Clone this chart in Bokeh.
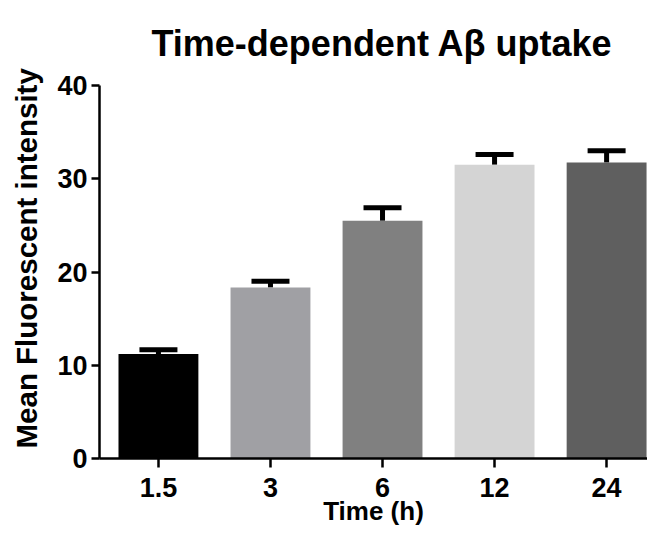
from bokeh.plotting import figure
from bokeh.models import ColumnDataSource, Whisker, TeeHead, FixedTicker, Range1d, Title
from bokeh.embed import file_html
from bokeh.resources import INLINE

title_text = "Time-dependent A\u03b2 uptake"
x_label = "Time (h)"
y_label = "Mean Fluorescent intensity"
categories = ["1.5", "3", "6", "12", "24"]
means = [11.2, 18.35, 25.5, 31.5, 31.75]
upper = [11.65, 19.0, 26.9, 32.6, 33.0]
colors = ["#000000", "#a0a0a4", "#808080", "#d4d4d4", "#5f5f5f"]
y_ticks = [0, 10, 20, 30, 40]

xpos = list(range(len(categories)))
src = ColumnDataSource(dict(x=xpos, top=means, upper=upper, color=colors))

FONT = "Liberation Sans"

p = figure(width=647, height=528, output_backend="svg", toolbar_location=None,
           x_range=Range1d(-0.526, 4.365), y_range=Range1d(0, 40),
           min_border_left=98, min_border_right=0, min_border_top=85,
           min_border_bottom=68)

xax = p.below[0]
yax = p.left[0]

p.vbar(x="x", top="top", width=0.713, bottom=0, color="color", line_color=None, source=src)
w = Whisker(base="x", lower="top", upper="upper", source=src,
            line_width=5, line_color="black",
            upper_head=TeeHead(size=38, line_width=5, line_color="black"),
            lower_head=None)
p.add_layout(w)

p.grid.visible = False
p.outline_line_color = None
p.background_fill_color = "white"
p.border_fill_color = "white"

for ax in (xax, yax):
    ax.axis_line_width = 2.5
    ax.axis_line_color = "black"
    ax.major_tick_line_width = 2.5
    ax.major_tick_line_color = "black"
    ax.minor_tick_line_color = None
    ax.major_tick_in = 0
    ax.major_label_text_font = FONT
    ax.major_label_text_font_style = "bold"
    ax.major_label_text_font_size = "27px"
    ax.major_label_text_color = "black"
    ax.axis_label_text_font = FONT
    ax.axis_label_text_font_style = "bold"
    ax.axis_label_text_color = "black"

yax.ticker = FixedTicker(ticks=y_ticks)
yax.major_tick_out = 8
yax.major_label_standoff = 4

xax.ticker = FixedTicker(ticks=xpos)
xax.major_label_overrides = {i: c for i, c in enumerate(categories)}
xax.major_tick_out = 9
xax.major_label_standoff = 10
xax.axis_label = x_label
xax.axis_label_text_font_size = "26px"
xax.axis_label_standoff = -4

p.add_layout(Title(text=title_text, text_font=FONT, text_font_size="36px",
                   text_font_style="bold", text_color="black",
                   align="left", offset=52, vertical_align="top", standoff=40), "above")

p.add_layout(Title(text=y_label, text_font=FONT, text_font_size="29.5px",
                   text_font_style="bold", text_color="black",
                   align="left", offset=10, vertical_align="top", standoff=19), "left")

open("out.html", "w").write(file_html(p, INLINE))
